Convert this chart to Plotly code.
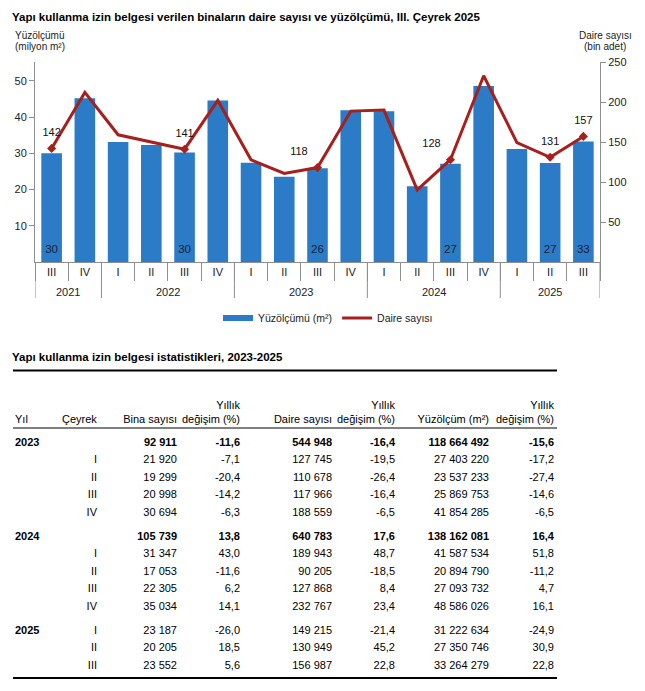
import plotly.graph_objects as go

# ---------------- chart data ----------------
chart_years = ["2021", "2021", "2022", "2022", "2022", "2022", "2023", "2023", "2023", "2023",
               "2024", "2024", "2024", "2024", "2025", "2025", "2025"]
chart_quarters = ["III", "IV", "I", "II", "III", "IV", "I", "II", "III", "IV",
                  "I", "II", "III", "IV", "I", "II", "III"]
yuzolcum_mn = [30.0, 45.2, 33.1, 32.3, 30.2, 44.6, 27.40, 23.54, 25.87, 41.85,
               41.59, 20.89, 27.09, 48.59, 31.22, 27.35, 33.26]
daire_bin = [142, 212, 159, 150, 141, 202, 127.7, 110.7, 118.0, 188.6,
             189.9, 90.2, 127.9, 232.8, 149.2, 130.9, 157.0]
labeled = [True, False, False, False, True, False, False, False, True, False,
           False, False, True, False, False, True, True]
label_pos = {0: "top center", 4: "top center", 8: "top left", 12: "top left",
             15: "top center", 16: "top center"}
left_ticks = [10, 20, 30, 40, 50]
right_ticks = [50, 100, 150, 200, 250]

# ---------------- table data ----------------
tbl_year = ["2023", "", "", "", "", "2024", "", "", "", "", "2025", "", ""]
tbl_quarter = ["", "I", "II", "III", "IV", "", "I", "II", "III", "IV", "I", "II", "III"]
tbl_total = [True, False, False, False, False, True, False, False, False, False, False, False, False]
tbl_bina = [92911, 21920, 19299, 20998, 30694, 105739, 31347, 17053, 22305, 35034, 23187, 20205, 23552]
tbl_bina_chg = [-11.6, -7.1, -20.4, -14.2, -6.3, 13.8, 43.0, -11.6, 6.2, 14.1, -26.0, 18.5, 5.6]
tbl_daire = [544948, 127745, 110678, 117966, 188559, 640783, 189943, 90205, 127868, 232767,
             149215, 130949, 156987]
tbl_daire_chg = [-16.4, -19.5, -26.4, -16.4, -6.5, 17.6, 48.7, -18.5, 8.4, 23.4, -21.4, 45.2, 22.8]
tbl_yuz = [118664492, 27403220, 23537233, 25869753, 41854285, 138162081, 41587534, 20894790,
           27093732, 48586026, 31222634, 27350746, 33264279]
tbl_yuz_chg = [-15.6, -17.2, -27.4, -14.6, -6.5, 16.4, 51.8, -11.2, 4.7, 16.1, -24.9, 30.9, 22.8]
tbl_head1 = ["Yıl", "Çeyrek", "Bina sayısı", "Yıllık", "Daire sayısı", "Yıllık", "Yüzölçüm (m²)", "Yıllık"]
tbl_head2 = ["", "", "", "değişim (%)", "", "değişim (%)", "", "değişim (%)"]

W, H = 645, 691
FONT = "Liberation Sans, Arial, sans-serif"
BLUE = "#2B7BC6"
RED = "#A6201E"
AX = "#8E8E8E"
TXT = "#222"
BAR_LABEL_Y = 3.2


def py(p):
    return 1 - p / H


def fmt_int(v):
    return f"{v:,}".replace(",", " ")


def fmt_dec(v):
    return f"{v:.1f}".replace(".", ",")


def bold(s, b):
    return f"<b>{s}</b>" if b else s


cats = [f"{y} {q}" for y, q in zip(chart_years, chart_quarters)]

fig = go.Figure()

# bars
fig.add_trace(go.Bar(
    x=cats, y=yuzolcum_mn,
    marker=dict(color=BLUE, line=dict(width=0)),
    showlegend=False, hoverinfo="skip",
))
# bar labels near the base
bidx = [i for i, f in enumerate(labeled) if f]
fig.add_trace(go.Scatter(
    x=[cats[i] for i in bidx], y=[BAR_LABEL_Y] * len(bidx), mode="text",
    text=[f"{yuzolcum_mn[i]:.0f}" for i in bidx], textposition="middle center",
    textfont=dict(size=11.5, color="#15233A", family=FONT),
    showlegend=False, hoverinfo="skip",
))
# line
fig.add_trace(go.Scatter(
    x=cats, y=daire_bin, yaxis="y2",
    mode="lines", line=dict(color=RED, width=3),
    showlegend=False, hoverinfo="skip",
))
# labeled points
fig.add_trace(go.Scatter(
    x=[cats[i] for i in bidx], y=[daire_bin[i] for i in bidx], yaxis="y2",
    mode="markers", marker=dict(symbol="diamond", size=7, color=RED),
    showlegend=False, hoverinfo="skip",
))
fig.add_trace(go.Scatter(
    x=[cats[i] for i in bidx], y=[daire_bin[i] for i in bidx], yaxis="y2",
    mode="markers+text", marker=dict(size=14, color="rgba(0,0,0,0)"),
    text=[f"{daire_bin[i]:.0f}" for i in bidx],
    textposition=[label_pos[i] for i in bidx],
    textfont=dict(size=11, color="#111", family=FONT),
    showlegend=False, hoverinfo="skip",
))
# legend entries
fig.add_trace(go.Scatter(x=[None], y=[None], xaxis="x2", yaxis="y3", mode="lines",
                         line=dict(color=BLUE, width=6), name="Yüzölçümü (m²)"))
fig.add_trace(go.Scatter(x=[None], y=[None], xaxis="x2", yaxis="y3", mode="lines",
                         line=dict(color=RED, width=3), name="Daire sayısı"))

# ---------------- year groups on the category axis ----------------
groups = []
for i, yv in enumerate(chart_years):
    if not groups or groups[-1][0] != yv:
        groups.append([yv, i, i])
    else:
        groups[-1][2] = i

shapes = []
annotations = []
bounds = [g[1] - 0.5 for g in groups] + [groups[-1][2] + 0.5]
for b in bounds:
    shapes.append(dict(type="line", xref="x", yref="paper", x0=b, x1=b, y0=py(262), y1=py(298),
                       line=dict(color=AX, width=1)))
for yv, s, e in groups:
    annotations.append(dict(text=yv, xref="x", yref="paper", x=(s + e) / 2, y=py(292),
                            xanchor="center", yanchor="middle", showarrow=False,
                            font=dict(size=11, color=TXT, family=FONT)))

# ---------------- table as text traces ----------------
row_y = []
y = 443
for k in range(len(tbl_year)):
    if k > 0:
        y += 24 if tbl_year[k] else 17.5
    row_y.append(y)

TF = 11
cols = [
    (15, "middle right", tbl_year, [True] * len(tbl_year)),
    (97, "middle left", tbl_quarter, [False] * len(tbl_year)),
    (177, "middle left", [fmt_int(v) for v in tbl_bina], tbl_total),
    (240, "middle left", [fmt_dec(v) for v in tbl_bina_chg], tbl_total),
    (332, "middle left", [fmt_int(v) for v in tbl_daire], tbl_total),
    (395, "middle left", [fmt_dec(v) for v in tbl_daire_chg], tbl_total),
    (489, "middle left", [fmt_int(v) for v in tbl_yuz], tbl_total),
    (554, "middle left", [fmt_dec(v) for v in tbl_yuz_chg], tbl_total),
]
head_x = [15, 62, 177, 240, 332, 395, 489, 554]
for (cx, pos, vals, bflags) in cols:
    fig.add_trace(go.Scatter(
        x=[cx] * len(vals), y=row_y, xaxis="x2", yaxis="y3", mode="text",
        text=[bold(v, b) for v, b in zip(vals, bflags)], textposition=pos,
        textfont=dict(size=TF, color="#000", family=FONT),
        showlegend=False, hoverinfo="skip", cliponaxis=False,
    ))
for j, (h1, h2) in enumerate(zip(tbl_head1, tbl_head2)):
    pos = "middle right" if j < 2 else "middle left"
    xs = [head_x[j], head_x[j]] if h2 else [head_x[j]]
    ys = [406, 420] if h2 else [420]
    tx = [h1, h2] if h2 else [h1]
    fig.add_trace(go.Scatter(
        x=xs, y=ys, xaxis="x2", yaxis="y3", mode="text",
        text=tx, textposition=pos,
        textfont=dict(size=TF, color="#000", family=FONT),
        showlegend=False, hoverinfo="skip", cliponaxis=False))

shapes += [
    dict(type="line", xref="x2", yref="y3", x0=13, x1=557, y0=370.5, y1=370.5,
         line=dict(color="#000", width=2)),
    dict(type="line", xref="x2", yref="y3", x0=13, x1=557, y0=428, y1=428,
         line=dict(color="#000", width=1)),
    dict(type="line", xref="x2", yref="y3", x0=13, x1=557, y0=678, y1=678,
         line=dict(color="#000", width=2)),
]

annotations += [
    dict(text="<b>Yapı kullanma izin belgesi verilen binaların daire sayısı ve yüzölçümü, III. Çeyrek 2025</b>",
         x=10 / W, y=py(17), xref="paper", yref="paper", xanchor="left", yanchor="middle",
         showarrow=False, font=dict(size=11.5, color="#000", family=FONT)),
    dict(text="Yüzölçümü", x=13 / W, y=py(35), xref="paper", yref="paper",
         xanchor="left", yanchor="middle", showarrow=False,
         font=dict(size=10, color=TXT, family=FONT)),
    dict(text="(milyon m²)", x=13 / W, y=py(47), xref="paper", yref="paper",
         xanchor="left", yanchor="middle", showarrow=False,
         font=dict(size=10, color=TXT, family=FONT)),
    dict(text="Daire sayısı", x=605 / W, y=py(35), xref="paper", yref="paper",
         xanchor="center", yanchor="middle", showarrow=False,
         font=dict(size=10, color=TXT, family=FONT)),
    dict(text="(bin adet)", x=605 / W, y=py(47), xref="paper", yref="paper",
         xanchor="center", yanchor="middle", showarrow=False,
         font=dict(size=10, color=TXT, family=FONT)),
    dict(text="<b>Yapı kullanma izin belgesi istatistikleri, 2023-2025</b>",
         x=10 / W, y=py(357), xref="paper", yref="paper", xanchor="left", yanchor="middle",
         showarrow=False, font=dict(size=11.5, color="#000", family=FONT)),
]

fig.update_layout(
    width=W, height=H, template="none",
    margin=dict(l=0, r=0, t=0, b=0, pad=0),
    paper_bgcolor="white", plot_bgcolor="rgba(0,0,0,0)",
    font=dict(family=FONT, size=11, color=TXT),
    bargap=0.38,
    xaxis=dict(type="category", categoryorder="array", categoryarray=cats,
               tickvals=cats, ticktext=chart_quarters, range=[-0.5, len(cats) - 0.5],
               domain=[35 / W, 600 / W], anchor="y",
               showline=True, linecolor=AX, linewidth=1, showgrid=False,
               ticks="outside", tickson="boundaries", ticklen=18, tickcolor=AX,
               tickfont=dict(size=11, color=TXT, family=FONT), automargin=False),
    yaxis=dict(domain=[py(262), py(62)], range=[0, 55.2], anchor="x",
               tickvals=left_ticks, showline=True, linecolor=AX, showgrid=False,
               zeroline=False, ticks="outside", ticklen=5, tickcolor=AX,
               tickfont=dict(size=11, color=TXT, family=FONT), automargin=False),
    yaxis2=dict(overlaying="y", side="right", anchor="x", range=[0, 250],
                tickvals=right_ticks, showline=True, linecolor=AX, showgrid=False,
                zeroline=False, ticks="outside", ticklen=5, tickcolor=AX,
                tickfont=dict(size=11, color=TXT, family=FONT), automargin=False),
    xaxis2=dict(domain=[0, 1], range=[0, W], anchor="y3", visible=False, fixedrange=True),
    yaxis3=dict(domain=[0, 1], range=[H, 0], anchor="x2", visible=False, fixedrange=True),
    legend=dict(orientation="h", x=328 / W, xanchor="center", y=py(318), yanchor="middle",
                font=dict(size=10.5, color=TXT, family=FONT), itemwidth=30,
                bgcolor="rgba(0,0,0,0)"),
    shapes=shapes, annotations=annotations,
)

fig.write_html("out.html", config={"displayModeBar": False},
               post_script="document.body.style.margin='0';document.body.style.padding='0';")
